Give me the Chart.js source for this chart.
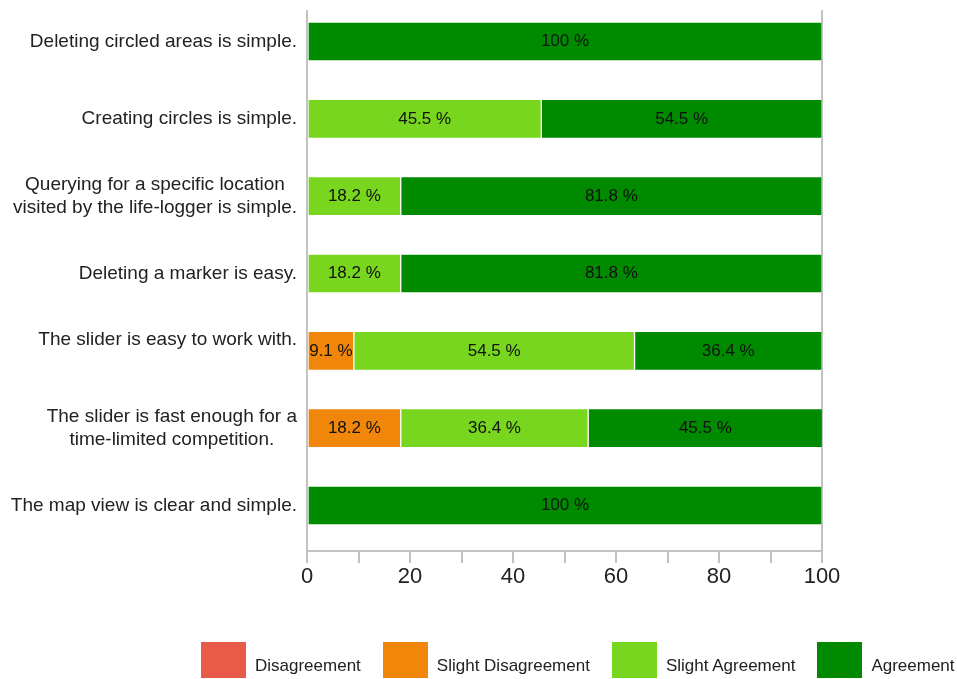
<!DOCTYPE html>
<html>
<head>
<meta charset="utf-8">
<title>Survey agreement</title>
<script src="https://cdn.jsdelivr.net/npm/chart.js@4.4.1/dist/chart.umd.min.js"></script>
<style>
  body { margin: 0; background: #fff; }
  #wrap { position: relative; width: 957px; height: 679px; }
  #legend {
    position: absolute; left: 201px; top: 642px;
    display: flex; gap: 22px;
    font: 17px "Liberation Sans", Arial, sans-serif; color: #222;
  }
  #legend .item { display: flex; align-items: center; }
  #legend .box { width: 45px; height: 36px; margin-right: 9px; }
  #legend .txt { position: relative; top: 6px; }
</style>
</head>
<body>
<div id="wrap">
  <canvas id="survey" width="957" height="679"></canvas>
  <div id="legend"></div>
</div>
<script>
// statements, one array per line of the label
const categories = [
  ['Deleting circled areas is simple.'],
  ['Creating circles is simple.'],
  ['Querying for a specific location', 'visited by the life-logger is simple.'],
  ['Deleting a marker is easy.'],
  ['The slider is easy to work with.', ''],
  ['The slider is fast enough for a', 'time-limited competition.'],
  ['The map view is clear and simple.']
];

const seriesNames = ['Disagreement', 'Slight Disagreement', 'Slight Agreement', 'Agreement'];

// percent of answers
const disagreement       = [0, 0, 0, 0, 0, 0, 0];
const slightDisagreement = [0, 0, 0, 0, 9.1, 18.2, 0];
const slightAgreement    = [0, 45.5, 18.2, 18.2, 54.5, 36.4, 0];
const agreement          = [100, 54.5, 81.8, 81.8, 36.4, 45.5, 100];

const xTickLabels = [0, 20, 40, 60, 80, 100];

const colors = ['#e95a48', '#f0870a', '#78d61e', '#008a00'];
const axisGray = '#c2c2c2';
const fontFamily = '"Liberation Sans", Arial, sans-serif';

const series = [disagreement, slightDisagreement, slightAgreement, agreement];

// labels on the left, lines centred on each other, block right-aligned
const categoryLabels = {
  id: 'categoryLabels',
  afterDraw(chart) {
    const ctx = chart.ctx;
    const y = chart.scales.y;
    const right = chart.chartArea.left - 10;
    const lineH = 23;
    ctx.save();
    ctx.font = '19px ' + fontFamily;
    ctx.fillStyle = '#222';
    ctx.textAlign = 'center';
    ctx.textBaseline = 'middle';
    categories.forEach((lines, i) => {
      const w = Math.max(...lines.map(l => ctx.measureText(l).width));
      const cx = right - w / 2;
      const cy = y.getPixelForValue(i);
      const top = cy - (lines.length - 1) * lineH / 2;
      lines.forEach((l, k) => ctx.fillText(l, cx, top + k * lineH));
    });
    ctx.restore();
  }
};

// percent text in the middle of each segment
const barValues = {
  id: 'barValues',
  afterDatasetsDraw(chart) {
    const ctx = chart.ctx;
    ctx.save();
    ctx.font = '17px ' + fontFamily;
    ctx.fillStyle = '#111';
    ctx.textAlign = 'center';
    ctx.textBaseline = 'middle';
    chart.data.datasets.forEach((ds, d) => {
      const meta = chart.getDatasetMeta(d);
      meta.data.forEach((bar, i) => {
        const v = ds.data[i].x;
        if (!v) return;
        const p = bar.getProps(['x', 'y', 'base'], true);
        ctx.fillText(v + ' %', (p.x + p.base) / 2, p.y);
      });
    });
    ctx.restore();
  }
};

new Chart(document.getElementById('survey'), {
  type: 'bar',
  data: {
    datasets: series.map((vals, s) => ({
      label: seriesNames[s],
      data: vals.map((v, i) => ({ x: v, y: i })),
      backgroundColor: colors[s],
      borderColor: 'rgba(255, 255, 255, 0.2)',
      borderWidth: 1,
      borderSkipped: false,
      barThickness: 39
    }))
  },
  options: {
    indexAxis: 'y',
    responsive: false,
    animation: false,
    layout: { padding: { top: 10, right: 135, bottom: 0, left: 0 } },
    plugins: {
      legend: { display: false },
      tooltip: { enabled: false }
    },
    scales: {
      y: {
        type: 'linear',
        stacked: true,
        reverse: true,
        offset: false,
        min: -0.4073,
        max: 6.5884,
        grid: { display: false },
        border: { display: false },
        ticks: { display: false },
        afterFit: s => { s.width = 307; }
      },
      x: {
        type: 'linear',
        stacked: true,
        min: 0,
        max: 100,
        grid: {
          color: c => (c.tick && (c.tick.value === 0 || c.tick.value === 100)) ? axisGray : 'rgba(0,0,0,0)',
          tickColor: axisGray,
          lineWidth: 2,
          tickLength: 12
        },
        border: { display: true, color: axisGray, width: 2 },
        ticks: {
          stepSize: 10,
          padding: 1,
          color: '#222',
          font: { family: fontFamily, size: 22 },
          callback: v => xTickLabels.includes(v) ? v : ''
        },
        afterFit: s => { s.height = 128; }
      }
    }
  },
  plugins: [categoryLabels, barValues]
});

// legend under the chart
const legend = document.getElementById('legend');
seriesNames.forEach((name, s) => {
  const item = document.createElement('div');
  item.className = 'item';
  item.innerHTML = '<span class="box" style="background:' + colors[s] + '"></span><span class="txt">' + name + '</span>';
  legend.appendChild(item);
});
</script>
</body>
</html>
